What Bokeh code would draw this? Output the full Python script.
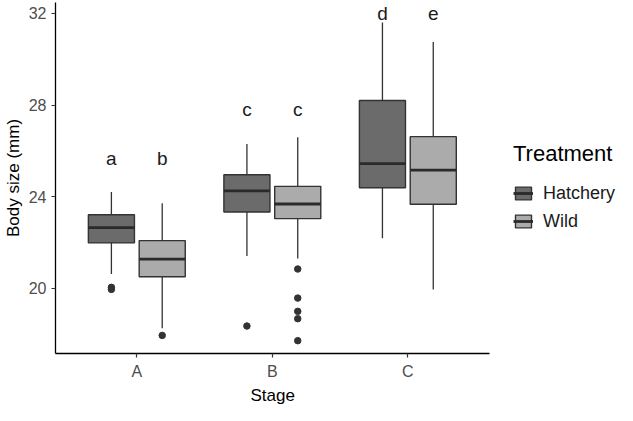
from bokeh.plotting import figure
from bokeh.models import ColumnDataSource, FixedTicker, Legend, LegendItem, Range1d, Title
from bokeh.transform import dodge
from bokeh.core.properties import value
from bokeh.embed import file_html
from bokeh.resources import INLINE

# ---- data ----
stages = ["A", "B", "C"]
treatments = ["Hatchery", "Wild"]

hatch_low = [20.62, 21.41, 22.18]
hatch_q1 = [21.98, 23.33, 24.39]
hatch_med = [22.65, 24.25, 25.44]
hatch_q3 = [23.21, 24.96, 28.20]
hatch_high = [24.20, 26.30, 31.61]

wild_low = [18.25, 21.30, 19.95]
wild_q1 = [20.50, 23.04, 23.67]
wild_med = [21.27, 23.68, 25.16]
wild_q3 = [22.08, 24.45, 26.62]
wild_high = [23.71, 26.59, 30.76]

hatch_out_stage = ["A", "A", "B"]
hatch_out = [20.04, 19.95, 18.35]
wild_out_stage = ["A", "B", "B", "B", "B", "B"]
wild_out = [17.94, 20.84, 19.57, 18.99, 18.67, 17.71]

hatch_letters = ["a", "c", "d"]
wild_letters = ["b", "c", "e"]
letter_y = [25.66, 27.82, 31.98]

y_ticks = [20, 24, 28, 32]

# ---- style ----
FONT = "Liberation Sans"
COLORS = {"Hatchery": "#6b6b6b", "Wild": "#ababab"}
LINE = "#333333"
DODGE = 0.1875
HALF = 0.17

# discrete stage axis: stage i sits at position i+1 (ggplot-style)
pos = {s: i + 1 for i, s in enumerate(stages)}

p = figure(width=617, height=405,
           x_range=Range1d(0.4, 0.4 + 564 / 136.0),
           y_range=Range1d(17.15, 32.48),
           output_backend="svg", toolbar_location=None,
           min_border_left=53, min_border_right=0, min_border_top=2, min_border_bottom=46)
p.outline_line_color = None
p.grid.visible = False
p.background_fill_color = "white"

groups = [
    ("Hatchery", -DODGE, hatch_low, hatch_q1, hatch_med, hatch_q3, hatch_high,
     hatch_out_stage, hatch_out, hatch_letters),
    ("Wild", DODGE, wild_low, wild_q1, wild_med, wild_q3, wild_high,
     wild_out_stage, wild_out, wild_letters),
]

items = []
for name, off, lo, q1, med, q3, hi, ostage, oval, letters in groups:
    src = ColumnDataSource(dict(x=[pos[s] for s in stages], lo=lo, q1=q1, med=med, q3=q3, hi=hi,
                                letter=letters, ly=letter_y))
    p.segment(x0=dodge("x", off), y0="lo", x1=dodge("x", off), y1="hi",
              source=src, line_color=LINE, line_width=1.3)
    box = p.vbar(x=dodge("x", off), width=2 * HALF, top="q3", bottom="q1",
                 source=src, fill_color=COLORS[name], line_color=LINE, line_width=1.4)
    med_r = p.segment(x0=dodge("x", off - HALF), y0="med", x1=dodge("x", off + HALF), y1="med",
                      source=src, line_color="#2a2a2a", line_width=2.8)
    osrc = ColumnDataSource(dict(x=[pos[s] for s in ostage], val=oval))
    p.scatter(x=dodge("x", off), y="val", source=osrc,
              size=6.5, fill_color=LINE, line_color=LINE)
    p.text(x=dodge("x", off), y="ly", text="letter", source=src,
           text_align="center", text_baseline="alphabetic", text_font=value(FONT),
           text_font_size="19px", text_color="#1a1a1a")
    items.append(LegendItem(label=name, renderers=[box, med_r]))

# axes
p.xaxis.ticker = FixedTicker(ticks=[pos[s] for s in stages])
p.xaxis.major_label_overrides = {pos[s]: s for s in stages}
p.xaxis.bounds = (0.4, len(stages) + 0.6)
p.yaxis.ticker = FixedTicker(ticks=y_ticks)
for ax in (p.xaxis[0], p.yaxis[0]):
    ax.axis_line_color = "black"
    ax.axis_line_width = 1.3
    ax.major_tick_line_color = "#333333"
    ax.major_tick_line_width = 1.2
    ax.major_tick_out = 4
    ax.major_tick_in = 0
    ax.minor_tick_line_color = None
    ax.major_label_text_font = FONT
    ax.major_label_text_font_size = "16px"
    ax.major_label_text_color = "#4d4d4d"
    ax.axis_label_text_font = FONT
    ax.axis_label_text_font_size = "17px"
    ax.axis_label_text_font_style = "normal"
    ax.axis_label_text_color = "black"
    ax.major_label_standoff = 5
    ax.axis_label_standoff = 3
p.yaxis.axis_label = "Body size (mm)"

# x-axis title, centred under the stage axis (which spans 0.4..3.6, not the whole frame)
xtitle = Title(text="Stage", align="left", offset=195, standoff=2,
               text_font=FONT, text_font_size="17px", text_font_style="normal",
               text_color="black")
p.add_layout(xtitle, "below")

legend = Legend(items=items, title="Treatment", location=(458, 120),
                title_text_font=FONT, title_text_font_size="22px", title_text_font_style="normal",
                title_text_color="black", title_standoff=14,
                label_text_font=FONT, label_text_font_size="18px", label_text_color="#1a1a1a",
                glyph_width=20, glyph_height=16, label_height=24, label_standoff=10,
                spacing=4, padding=4, margin=0,
                border_line_color=None, background_fill_alpha=0)
p.add_layout(legend)

open("out.html", "w").write(file_html(p, INLINE))
